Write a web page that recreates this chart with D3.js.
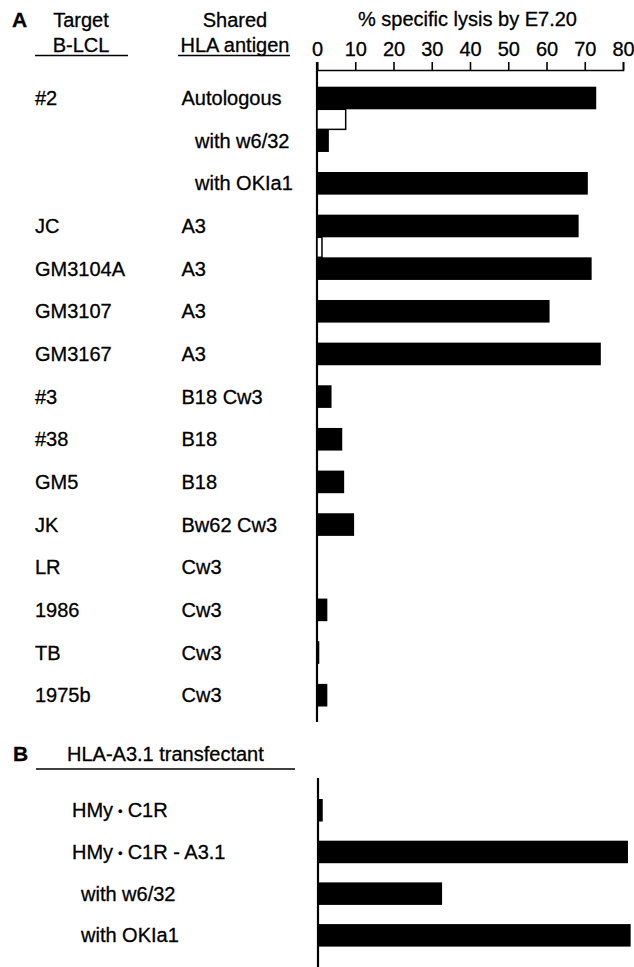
<!DOCTYPE html>
<html lang="en">
<head>
<meta charset="UTF-8">
<title>Specific lysis by E7.20</title>
<script src="https://cdn.jsdelivr.net/npm/d3@7"></script>
<style>
    body { margin: 0; background: #fff; }
    text {
        font-family: "Liberation Sans", Arial, Helvetica, sans-serif;
        font-size: 20px;
        fill: #000;
        stroke: #000;
        stroke-width: 0.3;
    }
    .panel { font-weight: bold; font-size: 21px; }
    .rule { stroke: #000; stroke-width: 1.3; }
    .axis path, .axis line { stroke: #000; stroke-width: 1.6; }
</style>
</head>
<body>
<svg width="634" height="967"></svg>

<script>
    // panel A: target B-LCL, shared HLA antigen, % lysis
    const targetsA  = ["#2", "", "", "JC", "GM3104A", "GM3107", "GM3167", "#3", "#38", "GM5", "JK", "LR", "1986", "TB", "1975b"];
    const antigensA = ["Autologous", "with w6/32", "with OKIa1", "A3", "A3", "A3", "A3", "B18 Cw3", "B18", "B18", "Bw62 Cw3", "Cw3", "Cw3", "Cw3", "Cw3"];
    const lysisA    = [73, 3.1, 70.8, 68.4, 71.8, 60.8, 74.2, 3.8, 6.6, 7.1, 9.7, 0, 2.7, 0.6, 2.7];
    const openA     = [7.5, null, null, 1.3, null, null, null, null, null, null, null, null, null, null, null];

    // panel B: HLA-A3.1 transfectant (label parts split round the bullet)
    const labelsB = [["HMy", "C1R"], ["HMy", "C1R - A3.1"], ["with w6/32"], ["with OKIa1"]];
    const lysisB  = [1.5, 81.3, 32.7, 82];

    const ticks = [0, 10, 20, 30, 40, 50, 60, 70, 80];

    const svg = d3.select("svg");

    const x = d3.scaleLinear().domain([0, 80]).range([317, 623]);

    const yA = d3.scaleBand()
        .domain(d3.range(targetsA.length))
        .range([86.7, 706.5])
        .paddingInner(0.47);

    const yB = d3.scaleBand()
        .domain(d3.range(labelsB.length))
        .range([799, 946.6])
        .paddingInner(0.46);

    // ---- panel A header
    svg.append("text").attr("class", "panel").attr("x", 12).attr("y", 27).text("A");

    const head = [
        {lines: ["Target", "B-LCL"], cx: 81, x0: 35, x1: 128},
        {lines: ["Shared", "HLA antigen"], cx: 235, x0: 178, x1: 290}
    ];
    head.forEach(h => {
        h.lines.forEach((t, i) => {
            svg.append("text")
                .attr("x", h.cx).attr("y", 27 + i * 25)
                .attr("text-anchor", "middle")
                .text(t);
        });
        svg.append("line").attr("class", "rule")
            .attr("x1", h.x0).attr("x2", h.x1)
            .attr("y1", 55.5).attr("y2", 55.5);
    });

    svg.append("text")
        .attr("x", 467.5).attr("y", 26)
        .attr("text-anchor", "middle")
        .text("% specific lysis by E7.20");

    // top axis
    const axis = svg.append("g")
        .attr("class", "axis")
        .attr("transform", "translate(0,70)")
        .call(d3.axisTop(x).tickValues(ticks).tickSize(8).tickPadding(6).tickFormat(d3.format("d")));
    axis.selectAll("text").attr("font-size", null).attr("font-family", null).attr("fill", null);

    // vertical axis lines
    svg.append("line").attr("class", "rule")
        .attr("x1", x(0)).attr("x2", x(0))
        .attr("y1", 62).attr("y2", 722)
        .style("stroke-width", 2.2);

    svg.append("line").attr("class", "rule")
        .attr("x1", x(0) + 1).attr("x2", x(0) + 1)
        .attr("y1", 778).attr("y2", 967)
        .style("stroke-width", 2.2);

    // row labels A
    const rowsA = svg.append("g");
    rowsA.selectAll("text.target")
        .data(targetsA)
        .join("text").attr("class", "target")
            .attr("x", 35)
            .attr("y", (d, i) => yA(i) + yA.bandwidth() / 2 + 7)
            .text(d => d);

    rowsA.selectAll("text.antigen")
        .data(antigensA)
        .join("text").attr("class", "antigen")
            .attr("x", d => d.startsWith("with") ? 195 : 181.5)
            .attr("y", (d, i) => yA(i) + yA.bandwidth() / 2 + 7)
            .text(d => d);

    // bars A
    svg.selectAll("rect.barA")
        .data(lysisA)
        .join("rect").attr("class", "barA")
            .attr("x", x(0))
            .attr("y", (d, i) => yA(i))
            .attr("width", d => x(d) - x(0))
            .attr("height", yA.bandwidth())
            .attr("fill", "#000");

    svg.selectAll("rect.openA")
        .data(openA.map((v, i) => ({v, i})).filter(d => d.v !== null))
        .join("rect").attr("class", "openA")
            .attr("x", x(0))
            .attr("y", d => yA(d.i) + yA.bandwidth())
            .attr("width", d => x(d.v) - x(0))
            .attr("height", yA.step() - yA.bandwidth())
            .attr("fill", "#fff")
            .attr("stroke", "#000")
            .attr("stroke-width", 1.5);

    // ---- panel B
    svg.append("text").attr("class", "panel").attr("x", 13).attr("y", 761).text("B");
    svg.append("text").attr("x", 67).attr("y", 761).text("HLA-A3.1 transfectant");
    svg.append("line").attr("class", "rule")
        .attr("x1", 36).attr("x2", 295)
        .attr("y1", 769).attr("y2", 769);

    const labB = svg.selectAll("text.labB")
        .data(labelsB)
        .join("text").attr("class", "labB")
            .attr("x", d => d.length === 1 ? 81 : 72)
            .attr("y", (d, i) => yB(i) + yB.bandwidth() / 2 + 7);

    labB.each(function(parts) {
        const t = d3.select(this);
        t.append("tspan").text(parts[0]);
        if (parts.length > 1) {
            t.append("tspan").attr("dx", 5).attr("dy", -1).style("font-size", "13px").text("\u2022");
            t.append("tspan").attr("dx", 5).attr("dy", 1).text(parts[1]);
        }
    });

    svg.selectAll("rect.barB")
        .data(lysisB)
        .join("rect").attr("class", "barB")
            .attr("x", x(0))
            .attr("y", (d, i) => yB(i))
            .attr("width", d => x(d) - x(0))
            .attr("height", yB.bandwidth())
            .attr("fill", "#000");
</script>
</body>
</html>
